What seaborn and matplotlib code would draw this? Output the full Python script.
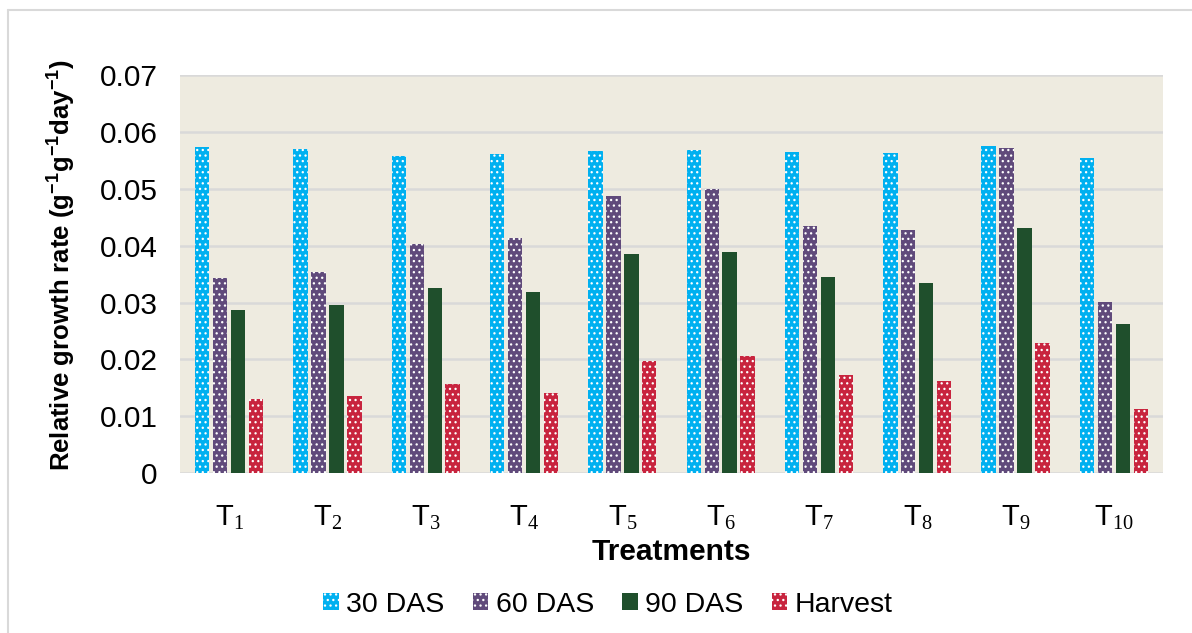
import numpy as np
import pandas as pd
import matplotlib
matplotlib.use("Agg")
import matplotlib.pyplot as plt
import seaborn as sns
from matplotlib.lines import Line2D

# Valores
treatments = ["T1", "T2", "T3", "T4", "T5", "T6", "T7", "T8", "T9", "T10"]
tick_labels = [r"T$_\mathrm{%d}$" % i for i in range(1, 11)]
stages = ["30 DAS", "60 DAS", "90 DAS", "Harvest"]
das_30 = [0.0574, 0.0570, 0.0559, 0.0561, 0.0567, 0.0569, 0.0565, 0.0564, 0.0576, 0.0555]
das_60 = [0.0344, 0.0354, 0.0403, 0.0413, 0.0488, 0.0500, 0.0435, 0.0428, 0.0572, 0.0301]
das_90 = [0.0287, 0.0296, 0.0326, 0.0318, 0.0386, 0.0389, 0.0345, 0.0334, 0.0431, 0.0262]
harvest = [0.0131, 0.0135, 0.0156, 0.0140, 0.0197, 0.0206, 0.0173, 0.0162, 0.0229, 0.0113]

colors = ["#00B0F0", "#604A7B", "#1F4F2C", "#C8243E"]
hatches = ["...", "...", "", "..."]

df = pd.DataFrame({
    "Treatment": treatments * 4,
    "Stage": np.repeat(stages, len(treatments)),
    "RGR": das_30 + das_60 + das_90 + harvest,
})

sns.set_style("white")
plt.rcParams["font.family"] = ["Liberation Sans", "DejaVu Sans"]
plt.rcParams["mathtext.fontset"] = "custom"
plt.rcParams["mathtext.rm"] = "Liberation Serif"
plt.rcParams["mathtext.bf"] = "Liberation Sans:bold"
plt.rcParams["hatch.linewidth"] = 0.9
plt.rcParams["text.color"] = "black"
plt.rcParams["axes.labelcolor"] = "black"
plt.rcParams["xtick.color"] = "black"
plt.rcParams["ytick.color"] = "black"

fig = plt.figure(figsize=(11.92, 6.33), dpi=100)
ax = fig.add_axes([0.151, 0.2528, 0.8247, 0.628])
ax.set_facecolor("#EEEBE0")

sns.barplot(data=df, x="Treatment", y="RGR", hue="Stage", order=treatments,
            hue_order=stages, palette=colors, width=0.73, gap=0.2,
            ax=ax, legend=False, saturation=1)

for cont, h in zip(ax.containers, hatches):
    for p in cont.patches:
        p.set_hatch(h)
        p.set_edgecolor("white")
        p.set_linewidth(0)

ax.set_ylim(0, 0.07)
ax.set_xlim(-0.5, 9.5)
ax.set_yticks(np.arange(0, 0.071, 0.01))
ax.set_yticklabels(["0"] + ["%.2f" % v for v in np.arange(0.01, 0.071, 0.01)])
ax.set_xticks(range(len(treatments)))
ax.set_xticklabels(tick_labels)
ax.tick_params(axis="y", labelsize=21.5, length=0, pad=16)
ax.tick_params(axis="x", labelsize=21, length=0, pad=22)
ax.yaxis.grid(True, color="#D9D9D9", linewidth=1.8)
ax.set_axisbelow(True)
for s in ax.spines.values():
    s.set_visible(False)

ax.set_xlabel("Treatments", fontsize=21.5, fontweight="bold", labelpad=4)
ax.set_ylabel("Relative growth rate (g$^{\\mathbf{-1}}$g$^{\\mathbf{-1}}$day$^{\\mathbf{-1}}$)",
              fontsize=18.5, fontweight="bold")
ax.yaxis.set_label_coords(-0.105, 0.523)

fig.legend(ax.containers, stages, loc="center", bbox_to_anchor=(0.51, 0.045),
           ncol=4, frameon=False, fontsize=20.5, handlelength=0.55, handleheight=0.55,
           handletextpad=0.25, columnspacing=1.0)

# borde del cuadro
fig.add_artist(Line2D([8 / 1192, 1], [1 - 10 / 633, 1 - 10 / 633], color="#D9D9D9", linewidth=1.5))
fig.add_artist(Line2D([8 / 1192, 8 / 1192], [0, 1 - 10 / 633], color="#D9D9D9", linewidth=1.5))

fig.savefig("out.png", dpi=100)
